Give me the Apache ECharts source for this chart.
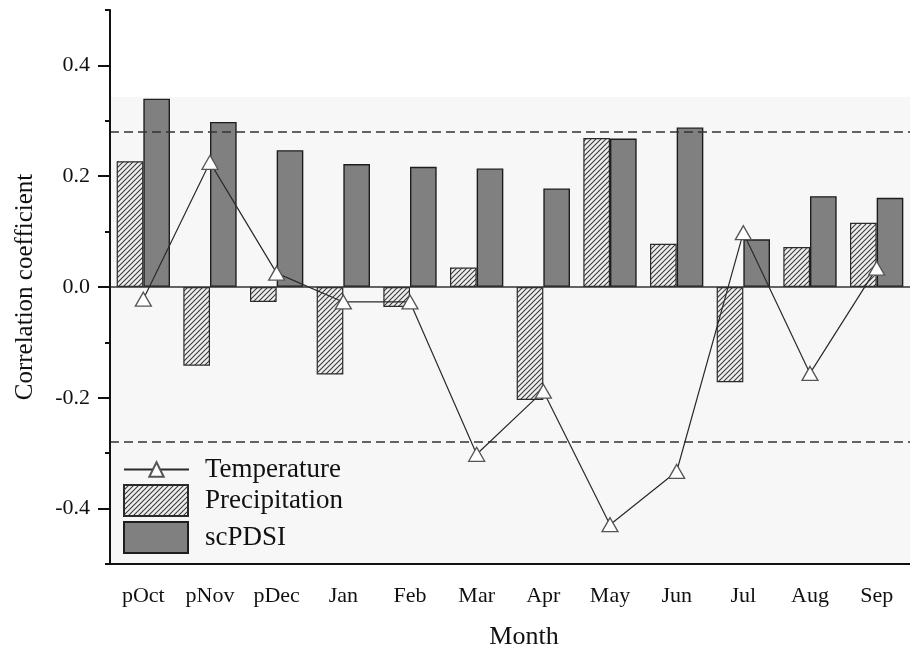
<!DOCTYPE html>
<html>
<head>
<meta charset="utf-8">
<script src="https://cdn.jsdelivr.net/npm/echarts@6/dist/echarts.min.js"></script>
<style>
  html, body { margin: 0; padding: 0; background: #fff; }
  #chart { width: 910px; height: 655px; }
</style>
</head>
<body>
<div id="chart"></div>
<script>
// Monthly correlation coefficients (previous Oct to current Sep)
const months = ['pOct', 'pNov', 'pDec', 'Jan', 'Feb', 'Mar', 'Apr', 'May', 'Jun', 'Jul', 'Aug', 'Sep'];
const temperature = [-0.022, 0.225, 0.025, -0.027, -0.027, -0.302, -0.188, -0.429, -0.333, 0.098, -0.156, 0.034];
const precipitation = [0.227, -0.142, -0.027, -0.158, -0.036, 0.035, -0.204, 0.269, 0.078, -0.172, 0.072, 0.116];
const scpdsi = [0.340, 0.298, 0.247, 0.222, 0.217, 0.214, 0.178, 0.268, 0.288, 0.086, 0.164, 0.161];
const yTickLabels = [-0.4, -0.2, 0.0, 0.2, 0.4];
const significance = 0.285;
const shadeTop = 0.343;

const SERIF = "'Liberation Serif', 'Times New Roman', serif";

// Diagonal hatch fill for the precipitation bars
function makeHatch() {
  const s = 5;
  const c = document.createElement('canvas');
  c.width = s; c.height = s;
  const g = c.getContext('2d');
  g.fillStyle = '#eeeeee';
  g.fillRect(0, 0, s, s);
  g.strokeStyle = '#3a3a3a';
  g.lineWidth = 1.1;
  g.beginPath();
  g.moveTo(-1, s + 1); g.lineTo(s + 1, -1);
  g.moveTo(-1, 1); g.lineTo(1, -1);
  g.moveTo(s - 1, s + 1); g.lineTo(s + 1, s - 1);
  g.stroke();
  return c;
}
const hatch = { image: makeHatch(), repeat: 'repeat' };

const chart = echarts.init(document.getElementById('chart'), null, { renderer: 'canvas' });

const option = {
  animation: false,
  backgroundColor: '#fff',
  grid: { left: 110, right: 0, top: 10, bottom: 87, containLabel: false },
  legend: [
    {
      data: ['Temperature'],
      orient: 'vertical',
      padding: 0,
      left: 123, top: 456,
      itemWidth: 65, itemHeight: 18,
      textStyle: { fontFamily: SERIF, fontSize: 27, color: '#111', padding: [0, 0, 0, 11] }
    },
    {
      data: ['Precipitation', 'scPDSI'],
      orient: 'vertical',
      padding: 0,
      icon: 'rect',
      left: 123, top: 484,
      itemWidth: 64, itemHeight: 31, itemGap: 4,
      textStyle: { fontFamily: SERIF, fontSize: 27, color: '#111', padding: [0, 0, 0, 12] }
    }
  ],
  xAxis: {
    type: 'category',
    data: months,
    boundaryGap: true,
    z: 10,
    name: 'Month',
    nameLocation: 'middle',
    nameGap: 60,
    nameTextStyle: { fontFamily: SERIF, fontSize: 26, color: '#111', padding: [0, 0, 0, 28] },
    axisLine: { onZero: false, lineStyle: { color: '#111', width: 2 } },
    axisTick: { alignWithLabel: true, length: 10, lineStyle: { color: '#111', width: 2 } },
    axisLabel: { fontFamily: SERIF, fontSize: 22, color: '#111', margin: 21 },
    splitLine: { show: false }
  },
  yAxis: [
    {
      type: 'value',
      min: -0.5, max: 0.5, interval: 0.1,
      z: 10,
      axisLine: { show: true, lineStyle: { color: '#111', width: 2 } },
      axisTick: { show: true, length: 5, lineStyle: { color: '#111', width: 2 } },
      axisLabel: { show: false },
      splitLine: { show: false },
      name: 'Correlation coefficient',
      nameLocation: 'middle',
      nameGap: 72,
      nameTextStyle: { fontFamily: SERIF, fontSize: 25, color: '#111' }
    },
    {
      type: 'value',
      position: 'left',
      min: -0.5, max: 0.5, interval: 0.1,
      z: 10,
      axisLine: { show: false },
      axisTick: { show: true, length: 12, customValues: yTickLabels, lineStyle: { color: '#111', width: 2 } },
      axisLabel: {
        show: true, customValues: yTickLabels, margin: 20,
        fontFamily: SERIF, fontSize: 22, color: '#111',
        formatter: v => v.toFixed(1)
      },
      splitLine: { show: false }
    }
  ],
  series: [
    {
      name: 'Precipitation',
      type: 'bar',
      data: precipitation,
      barGap: '0%',
      barCategoryGap: '20%',
      itemStyle: { color: hatch, borderColor: '#2a2a2a', borderWidth: 1.2 },
      z: 3,
      markArea: {
        silent: true,
        itemStyle: { color: '#f7f7f7' },
        data: [[{ yAxis: shadeTop }, { yAxis: -0.5 }]]
      }
    },
    {
      name: 'scPDSI',
      type: 'bar',
      data: scpdsi,
      barGap: '0%',
      barCategoryGap: '20%',
      itemStyle: { color: '#808080', borderColor: '#1e1e1e', borderWidth: 1.4 },
      z: 3,
      markLine: {
        silent: true,
        symbol: 'none',
        label: { show: false },
        data: [
          { yAxis: significance, lineStyle: { type: [9, 5], color: '#333', width: 1.5 } },
          { yAxis: -significance, lineStyle: { type: [9, 5], color: '#333', width: 1.5 } },
          { yAxis: 0, lineStyle: { type: 'solid', color: '#333', width: 1.5 } }
        ]
      }
    },
    {
      name: 'Temperature',
      type: 'line',
      data: temperature,
      symbol: 'triangle',
      symbolSize: [16, 14],
      showAllSymbol: true,
      lineStyle: { color: '#2a2a2a', width: 1.2 },
      itemStyle: { color: '#fff', borderColor: '#555', borderWidth: 1.3 },
      z: 5
    }
  ]
};

chart.setOption(option);
</script>
</body>
</html>
